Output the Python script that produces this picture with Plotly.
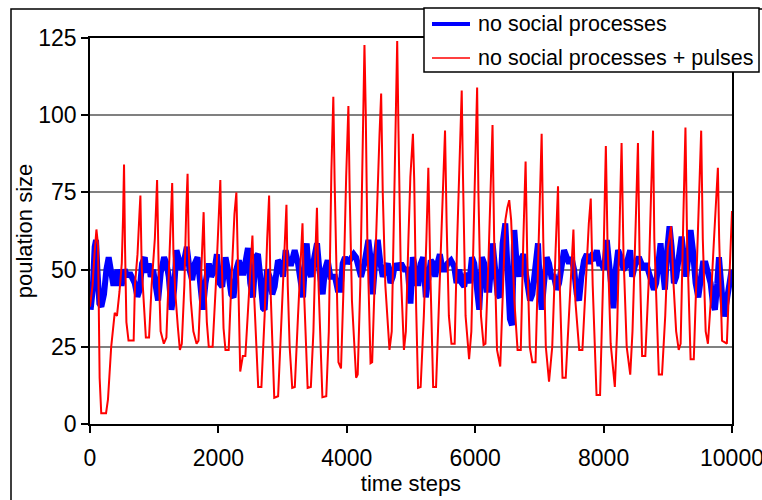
import plotly.graph_objects as go

# Series without pulses (blue)
blue_t = [10, 42, 73, 94, 115, 146, 177, 218, 255, 291, 323, 359, 395, 426, 463, 499, 541, 582, 619, 655,
          697, 738, 775, 811, 853, 879, 915, 946, 983, 1025, 1061, 1102, 1154, 1191, 1227, 1269, 1310, 1347,
          1383, 1425, 1467, 1508, 1550, 1591, 1633, 1675, 1716, 1758, 1799, 1851, 1888, 1940, 1976, 2018,
          2059, 2111, 2148, 2200, 2236, 2278, 2319, 2356, 2392, 2434, 2460, 2496, 2538, 2579, 2616, 2652,
          2694, 2720, 2756, 2798, 2839, 2876, 2928, 2964, 3006, 3048, 3084, 3136, 3188, 3240, 3276, 3318,
          3360, 3375, 3405, 3442, 3494, 3536, 3572, 3624, 3660, 3702, 3744, 3780, 3816, 3858, 3900, 3936,
          3972, 4014, 4066, 4108, 4144, 4180, 4222, 4274, 4336, 4368, 4404, 4440, 4482, 4524, 4560, 4596,
          4638, 4680, 4716, 4752, 4794, 4846, 4898, 4950, 4992, 5028, 5050, 5075, 5117, 5153, 5189, 5231,
          5273, 5309, 5345, 5377, 5413, 5449, 5491, 5533, 5569, 5621, 5673, 5709, 5751, 5792, 5829, 5865,
          5907, 5949, 5985, 6021, 6063, 6105, 6141, 6177, 6219, 6271, 6313, 6349, 6386, 6427, 6469, 6505,
          6541, 6573, 6609, 6645, 6687, 6729, 6750, 6780, 6812, 6854, 6890, 6942, 6978, 7010, 7036, 7072,
          7114, 7150, 7186, 7228, 7270, 7306, 7342, 7384, 7426, 7462, 7498, 7540, 7582, 7618, 7654, 7696,
          7738, 7774, 7810, 7852, 7894, 7930, 7966, 8008, 8050, 8086, 8122, 8154, 8190, 8226, 8268, 8310,
          8346, 8382, 8414, 8445, 8497, 8549, 8591, 8627, 8663, 8705, 8747, 8783, 8819, 8861, 8887, 8913,
          8955, 8991, 9027, 9059, 9095, 9131, 9173, 9215, 9251, 9287, 9318, 9355, 9391, 9433, 9475, 9511,
          9547, 9589, 9630, 9667, 9703, 9734, 9771, 9797, 9839, 9875, 9911, 9953, 9995]
blue_v = [37, 43.5, 57.4, 59.6, 50, 39, 38, 42, 50, 54, 50, 45.6, 45.6, 50, 45.6, 45.6, 50, 47.7, 49, 47.7,
          45.6, 41.2, 43.5, 52, 54, 49, 52, 47.7, 50, 44.5, 40, 49, 54, 52, 47.7, 37, 43.5, 56.3,
          53, 50, 53, 57.4, 50, 46.6, 52, 54, 45.6, 37, 45.6, 52, 47.7, 50, 55, 45.6,
          44.5, 54, 50, 42, 41, 50, 53, 49, 49, 55, 57, 45.6, 41, 54, 55, 47.7,
          37.5, 37, 50, 47.7, 42, 44.5, 53, 52, 47.7, 56.3, 52, 52, 56.3, 52, 45.6, 41,
          56.3, 58.5, 50, 47.7, 54, 58.5, 50, 42, 50, 53, 47.7, 47.7, 47.7, 43.5, 43.5, 52,
          54, 52, 54, 55, 54, 50, 47.7, 52, 59.6, 54, 42, 52, 59.6, 52, 47.7, 50,
          52, 45.6, 47.7, 52, 50, 52, 50, 50, 39, 54, 52, 45.6, 45.6, 52, 54, 41,
          50, 53, 52, 47.7, 52, 55, 50, 50, 52, 53, 51, 45.6, 50, 45.6, 44.5, 49,
          45.6, 54, 52, 45.6, 37, 54, 52, 43.5, 43.5, 58.5, 50, 42, 41, 58.5, 65, 50,
          34, 32, 62.8, 52, 47.7, 54, 55, 50, 45.6, 40, 42, 54, 58.5, 43.5, 37, 45.6,
          54, 52, 47.7, 47.7, 43.5, 45.6, 52, 56.3, 54, 52, 54, 50, 42, 40, 47.7, 53,
          55, 52, 54, 53, 56.3, 52, 52, 50, 59.6, 52, 42, 37.5, 50, 56.3, 54, 50,
          51, 54, 56.3, 47.7, 52, 54, 52, 50, 52, 49, 45.6, 43.5, 45.6, 54, 58.5, 52,
          43.5, 56.3, 64, 57.4, 45.6, 47.7, 54, 60.7, 54, 47.7, 54, 62.8, 56.3, 45.6, 41, 47.7,
          52, 52, 47.7, 45.6, 39, 37, 45.6, 54, 43.5, 34.8, 39, 45.6, 50]

# Series with pulses (red)
red_t = [0, 40, 70, 100, 125, 150, 175, 250, 280, 330, 385, 420, 460, 495, 515, 530, 545, 567, 600, 680,
         700, 740, 770, 785, 805, 842, 870, 920, 960, 1010, 1045, 1070, 1100, 1150, 1190, 1230, 1260, 1280,
         1300, 1330, 1370, 1400, 1430, 1470, 1500, 1520, 1540, 1570, 1610, 1660, 1690, 1730, 1770, 1790,
         1820, 1850, 1910, 1960, 2000, 2030, 2050, 2080, 2110, 2160, 2200, 2250, 2280, 2300, 2320, 2340,
         2380, 2420, 2470, 2510, 2530, 2560, 2590, 2620, 2670, 2720, 2760, 2790, 2810, 2840, 2870, 2930,
         2980, 3030, 3060, 3080, 3110, 3150, 3190, 3240, 3280, 3310, 3330, 3360, 3390, 3440, 3480, 3510,
         3535, 3560, 3590, 3620, 3680, 3720, 3760, 3790, 3810, 3840, 3870, 3910, 3950, 3990, 4025, 4045,
         4080, 4145, 4170, 4210, 4240, 4275, 4295, 4320, 4370, 4395, 4440, 4480, 4510, 4535, 4560, 4600,
         4665, 4700, 4730, 4760, 4785, 4805, 4840, 4890, 4920, 4960, 4990, 5030, 5050, 5080, 5110, 5150,
         5200, 5240, 5270, 5300, 5345, 5390, 5440, 5490, 5530, 5555, 5590, 5630, 5680, 5720, 5760, 5790,
         5810, 5850, 5905, 5940, 5990, 6030, 6050, 6090, 6130, 6160, 6210, 6240, 6270, 6295, 6340, 6390,
         6430, 6470, 6500, 6530, 6560, 6610, 6660, 6710, 6750, 6785, 6810, 6850, 6890, 6940, 6990, 7035,
         7060, 7100, 7150, 7200, 7250, 7290, 7310, 7360, 7410, 7460, 7500, 7530, 7560, 7620, 7670, 7720,
         7770, 7800, 7830, 7890, 7945, 7990, 8035, 8060, 8110, 8175, 8210, 8250, 8280, 8310, 8360, 8415,
         8450, 8500, 8535, 8560, 8600, 8650, 8700, 8740, 8770, 8790, 8830, 8860, 8910, 8960, 9000, 9050,
         9090, 9130, 9170, 9200, 9240, 9275, 9300, 9355, 9405, 9450, 9490, 9520, 9545, 9590, 9625, 9670,
         9720, 9760, 9780, 9800, 9845, 9920, 9960, 10000]
red_v = [38, 45, 55, 63, 58, 15, 3.5, 3.5, 8, 25, 36, 35, 43, 52, 67, 84, 58, 33, 27, 27,
         45, 55, 68, 74, 51, 37, 28, 28, 45, 60, 79, 50, 30, 26, 28, 50, 70, 78,
         55, 42, 31, 24, 26, 45, 70, 81, 55, 40, 30, 26, 27, 48, 68.6, 50,
         33, 25, 25, 45, 65, 79, 55, 31, 24, 24, 45, 68, 75, 55, 35, 17,
         22, 22, 40, 55, 61, 40, 25, 12, 12, 35, 60, 74, 45, 25, 8.5, 9,
         35, 58, 71, 45, 25, 11.7, 12, 35, 55, 65, 45, 25, 11.7, 12, 30, 55,
         70, 45, 25, 8.7, 9, 30, 82, 106, 79, 50, 20, 18, 45, 80, 103, 75,
         40, 15, 16, 45, 77, 122.7, 101, 60, 19.7, 20, 50, 80, 94, 107, 75, 45,
         24, 30, 60, 95, 124, 95, 50, 24, 30, 60, 80, 94, 79, 38, 11.7, 12,
         35, 60, 83, 50, 12, 12, 40, 70, 95, 65, 35, 26, 26, 60, 85, 108,
         80, 35, 21, 30, 75, 109, 75, 35, 25.6, 26, 55, 80, 96.8, 60, 24, 18.6,
         40, 66, 70, 72.5, 66, 40, 24, 24, 60, 85, 55, 25, 20, 20, 60, 94,
         60, 25, 13.7, 25, 55, 77, 50, 15, 15, 35, 55, 63, 40, 24, 24, 45,
         65, 73, 45, 9.4, 9.4, 45, 90, 60, 26, 12, 30, 65, 91, 55, 25, 16,
         30, 65, 91, 55, 22, 22, 45, 75, 95, 60, 30, 16, 16, 35, 57, 64,
         45, 30, 24, 26, 65, 96, 60, 21, 21, 50, 80, 95, 60, 30, 26, 40,
         60, 78, 83, 60, 27, 26, 45, 69]

y_ticks = [0, 25, 50, 75, 100, 125]
x_ticks = [0, 2000, 4000, 6000, 8000, 10000]

series_names = ["no social processes", "no social processes + pulses"]
series_colors = ["#0000FF", "#FF0000"]
series_widths = [6, 2]

FONT = "Liberation Sans, Arial, sans-serif"

fig = go.Figure()
fig.add_trace(go.Scatter(
    x=blue_t, y=blue_v, mode="lines", name=series_names[0],
    line=dict(color=series_colors[0], width=series_widths[0]), showlegend=False,
))
fig.add_trace(go.Scatter(
    x=red_t, y=red_v, mode="lines", name=series_names[1],
    line=dict(color=series_colors[1], width=series_widths[1]), showlegend=False,
))

L, R_EDGE, T, B = 90, 732, 38, 424
W, H = 762, 500


def px(xp):
    return (xp - L) / (R_EDGE - L)


def py(yp):
    return (B - yp) / (B - T)


# outer chart frame
fig.add_shape(type="rect", xref="paper", yref="paper",
              x0=px(11), x1=px(764), y0=py(9), y1=py(520),
              line=dict(color="black", width=1.5), fillcolor="rgba(0,0,0,0)", layer="below")

# legend box with line samples and labels
fig.add_shape(type="rect", xref="paper", yref="paper",
              x0=px(424), x1=px(759), y0=py(8), y1=py(72),
              line=dict(color="black", width=1.5), fillcolor="white", layer="above")
legend_rows = [24, 58]
for name, color, width, row in zip(series_names, series_colors, [4, 1.5], legend_rows):
    fig.add_shape(type="line", xref="paper", yref="paper",
                  x0=px(432), x1=px(470), y0=py(row), y1=py(row),
                  line=dict(color=color, width=width), layer="above")
    fig.add_annotation(xref="paper", yref="paper", x=px(476), y=py(row),
                       text=name, showarrow=False, xanchor="left", yanchor="middle",
                       font=dict(family=FONT, size=21.5, color="black"))

fig.update_layout(
    width=W, height=H,
    margin=dict(l=L, r=W - R_EDGE, t=T, b=H - B, autoexpand=False),
    paper_bgcolor="white", plot_bgcolor="white",
    font=dict(family=FONT, size=23, color="black"),
    showlegend=False,
    xaxis=dict(
        range=[0, 10000], tickvals=x_ticks, ticktext=[str(v) for v in x_ticks],
        showgrid=False, zeroline=False, automargin=False,
        showline=True, linecolor="black", linewidth=1.5, mirror=True,
        ticks="outside", ticklen=7, tickcolor="black", tickwidth=1.5,
        ticklabelstandoff=6, ticklabeloverflow="allow",
        title=dict(text="time steps", font=dict(size=22), standoff=4),
    ),
    yaxis=dict(
        range=[0, 125], tickvals=y_ticks, ticktext=[str(v) for v in y_ticks],
        showgrid=True, gridcolor="#808080", gridwidth=1.5, zeroline=False, automargin=False,
        showline=True, linecolor="black", linewidth=1.5, mirror=True,
        ticks="outside", ticklen=7, tickcolor="black", tickwidth=1.5,
        title=dict(text="poulation size", font=dict(size=22), standoff=0),
    ),
)

fig.write_html("out.html")
